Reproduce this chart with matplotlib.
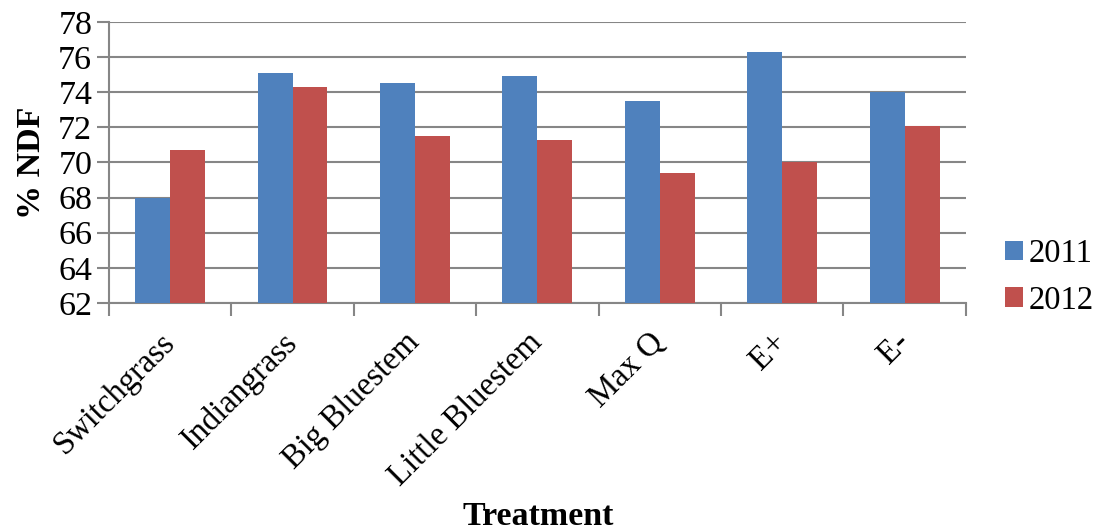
import numpy as np
import matplotlib.pyplot as plt

categories = ["Switchgrass", "Indiangrass", "Big Bluestem", "Little Bluestem", "Max Q", "E+", "E-"]
ndf_2011 = [68.0, 75.1, 74.5, 74.9, 73.5, 76.3, 74.0]
ndf_2012 = [70.7, 74.3, 71.5, 71.3, 69.4, 70.0, 72.1]
y_ticks = [62, 64, 66, 68, 70, 72, 74, 76, 78]

plt.rcParams['font.family'] = ['Liberation Serif', 'DejaVu Serif']
grey = '#868686'
fs = 24.5

fig = plt.figure(figsize=(11, 5.31), dpi=100)
ax = fig.add_axes([0.099, 0.4294, 0.779, 0.5292])

x = np.arange(len(categories))
w = 0.2857
ax.bar(x - w/2, ndf_2011, w, bottom=0, color='#4F81BD', label='2011', zorder=3)
ax.bar(x + w/2, ndf_2012, w, bottom=0, color='#C0504D', label='2012', zorder=3)

ax.set_ylim(62, 78)
ax.set_xlim(-0.5, len(categories) - 0.5)
ax.set_yticks(y_ticks)
ax.tick_params(axis='y', labelsize=fs, length=9, width=1.5, color=grey, direction='out', pad=3)
ax.yaxis.grid(True, color=grey, linewidth=1.5, zorder=0)
ax.set_axisbelow(True)

# category separators as ticks, labels as minor ticks
ax.set_xticks(np.arange(-0.5, len(categories)), minor=False)
ax.set_xticklabels([])
ax.tick_params(axis='x', which='major', length=9, width=1.5, color=grey, direction='out')
ax.set_xticks(x, minor=True)
ax.set_xticklabels(categories, minor=True, rotation=45, ha='right', va='center',
                   rotation_mode='anchor', fontsize=23.5)
ax.tick_params(axis='x', which='minor', length=0, pad=25)

for s in ['top', 'right']:
    ax.spines[s].set_visible(False)
for s in ['left', 'bottom']:
    ax.spines[s].set_color(grey)
    ax.spines[s].set_linewidth(1.5)

ax.set_ylabel('% NDF', fontsize=fs, fontweight='bold', labelpad=8)
fig.text(0.489, 0.028, 'Treatment', fontsize=fs, fontweight='bold', ha='center', va='center')

handles, labels = ax.get_legend_handles_labels()
fig.legend(handles, labels, loc='center left', bbox_to_anchor=(0.914, 0.478), frameon=False,
           fontsize=23.5, handlelength=0.55, handleheight=0.55, handletextpad=0.15,
           labelspacing=0.5, borderpad=0, borderaxespad=0)

fig.savefig('out.png', dpi=100)
